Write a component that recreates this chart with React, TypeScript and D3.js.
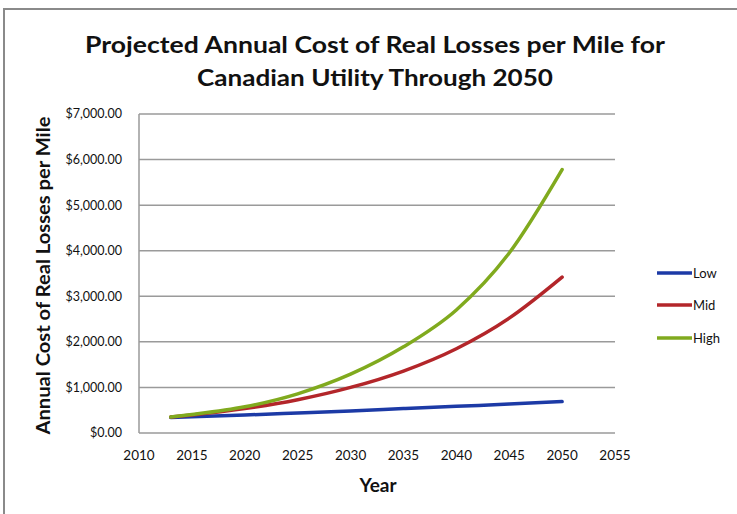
import React from "react";
import * as d3 from "d3";

const years = [2013, 2015, 2020, 2025, 2030, 2035, 2040, 2045, 2050];
const lowValues = [340, 355, 395, 440, 485, 535, 585, 635, 690];
const midValues = [350, 395, 535, 730, 1000, 1360, 1850, 2520, 3420];
const highValues = [350, 405, 575, 860, 1290, 1890, 2700, 3950, 5780];
const seriesNames = ["Low", "Mid", "High"];
const seriesColors = ["#1c3aa6", "#b3262a", "#80aa1e"];
const xTicks = [2010, 2015, 2020, 2025, 2030, 2035, 2040, 2045, 2050, 2055];
const yTicks = [0, 1000, 2000, 3000, 4000, 5000, 6000, 7000];
const titleLines = ["Projected Annual Cost of Real Losses per Mile for", "Canadian Utility Through 2050"];

const W = 737, H = 514;
const plot = { left: 139, right: 615, top: 114, bottom: 433 };

export default function App() {
  const x = d3.scaleLinear().domain([2010, 2055]).range([plot.left, plot.right]);
  const y = d3.scaleLinear().domain([0, 7000]).range([plot.bottom, plot.top]);
  const line = d3
    .line<[number, number]>()
    .x((d) => x(d[0]))
    .y((d) => y(d[1]))
    .curve(d3.curveMonotoneX);
  const allSeries = [lowValues, midValues, highValues];
  const fmt = (v: number) => "$" + d3.format(",.2f")(v);
  const font = "Lato, 'Open Sans', sans-serif";
  const titleWidths = [580, 356];
  const legendY = [273, 305, 338];

  return (
    <svg
      width={W}
      height={H}
      style={{ position: "absolute", left: 0, top: 0, background: "#fff" }}
      fontFamily={font}
    >
      <rect x={0} y={0} width={W} height={H} fill="#fff" />
      <path d={`M4,${H} L4,9 L${W},9`} fill="none" stroke="#8a8a8a" strokeWidth={2} />
      {titleLines.map((t, i) => (
        <text
          key={i}
          x={375}
          y={53 + i * 33}
          textAnchor="middle"
          fontSize={22}
          fontWeight="bold"
          fill="#111"
          textLength={titleWidths[i]}
          lengthAdjust="spacingAndGlyphs"
        >
          {t}
        </text>
      ))}
      {yTicks.map((v) => (
        <g key={v}>
          {v > 0 && (
            <line x1={plot.left} x2={plot.right} y1={y(v)} y2={y(v)} stroke="#9a9a9a" strokeWidth={1.5} />
          )}
          <text x={122} y={y(v)} dy="0.35em" textAnchor="end" fontSize={12.5} fill="#111">
            {fmt(v)}
          </text>
        </g>
      ))}
      <line x1={plot.left} x2={plot.left} y1={plot.top} y2={plot.bottom} stroke="#9a9a9a" strokeWidth={1.5} />
      <line x1={plot.left} x2={plot.right} y1={plot.bottom} y2={plot.bottom} stroke="#9a9a9a" strokeWidth={1.5} />
      {xTicks.map((t) => (
        <text key={t} x={x(t)} y={455} dy="0.35em" textAnchor="middle" fontSize={13.5} fill="#111">
          {t}
        </text>
      ))}
      <text x={378} y={485} dy="0.35em" textAnchor="middle" fontSize={19} fontWeight="bold" fill="#111">
        Year
      </text>
      <text
        transform={`translate(43,${(plot.top + plot.bottom) / 2 + 2}) rotate(-90)`}
        textAnchor="middle"
        dy="0.35em"
        fontSize={19}
        fontWeight="bold"
        fill="#111"
        textLength={318}
        lengthAdjust="spacingAndGlyphs"
      >
        Annual Cost of Real Losses per Mile
      </text>
      {allSeries.map((vals, i) => (
        <path
          key={i}
          d={line(years.map((yr, j) => [yr, vals[j]] as [number, number])) || ""}
          fill="none"
          stroke={seriesColors[i]}
          strokeWidth={3.5}
          strokeLinecap="round"
        />
      ))}
      {seriesNames.map((n, i) => (
        <g key={n} transform={`translate(0,${legendY[i]})`}>
          <line x1={657} x2={692} y1={0} y2={0} stroke={seriesColors[i]} strokeWidth={3.5} />
          <text x={693} y={0} dy="0.35em" fontSize={13} fill="#111">
            {n}
          </text>
        </g>
      ))}
    </svg>
  );
}
